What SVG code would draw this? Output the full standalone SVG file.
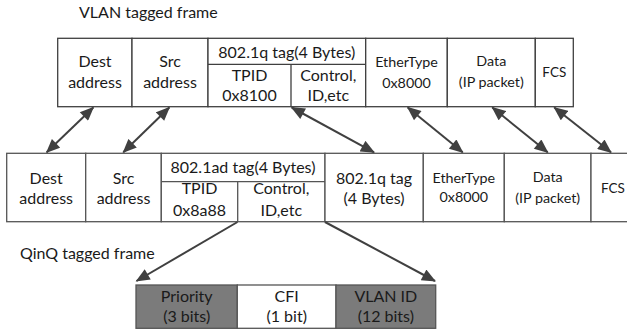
<svg xmlns="http://www.w3.org/2000/svg" width="627" height="331" viewBox="0 0 627 331">
  <style>
    text { font-family: Lato, "Open Sans", "Liberation Sans", sans-serif; fill: #1a1a1a; text-anchor: middle; }
    .lg { font-size: 16px; }
    .md { font-size: 14.3px; }
    .sm { font-size: 13.5px; }
    .title { font-size: 16px; text-anchor: start; }
    .box { fill: #ffffff; stroke: #3f3f3f; stroke-width: 1.3; }
    .box2 { fill: #ffffff; stroke: #555555; stroke-width: 1.3; }
    .dark { fill: #7b7b7b; stroke: #555555; stroke-width: 1.3; }
    .sep { stroke: #3f3f3f; stroke-width: 1.3; fill: none; }
    .sep2 { stroke: #555555; stroke-width: 1.3; fill: none; }
    .conn { stroke: #404040; stroke-width: 2; fill: none; }
  </style>
  <defs>
    <marker id="head" viewBox="0 0 14 12" refX="13" refY="6" markerWidth="15" markerHeight="12" markerUnits="userSpaceOnUse" orient="auto-start-reverse">
      <path d="M0,0 L14,6 L0,12 z" fill="#404040"/>
    </marker>
  </defs>

  <!-- captions -->
  <text class="title" x="79" y="18">VLAN tagged frame</text>
  <text class="title" x="20" y="258.5">QinQ tagged frame</text>

  <!-- 802.1Q frame -->
  <g id="vlan-dest">
    <rect class="box" x="57.7" y="38.3" width="74.3" height="68.4"/>
    <text class="lg" x="95" y="67">Dest</text>
    <text class="lg" x="95" y="88">address</text>
  </g>
  <g id="vlan-src">
    <rect class="box" x="132" y="38.3" width="76" height="68.4"/>
    <text class="lg" x="170" y="67">Src</text>
    <text class="lg" x="170" y="88">address</text>
  </g>
  <g id="vlan-tag">
    <rect class="box" x="208" y="38.3" width="157.7" height="68.4"/>
    <path class="sep" d="M208,64.3 H365.7 M291,64.3 V106.7"/>
    <text class="lg" x="286.8" y="58">802.1q tag(4 Bytes)</text>
    <text class="lg" x="249.5" y="81">TPID</text>
    <text class="lg" x="249.5" y="101">0x8100</text>
    <text class="lg" x="328.3" y="81">Control,</text>
    <text class="lg" x="328.3" y="101">ID,etc</text>
  </g>
  <g id="vlan-ethertype">
    <rect class="box" x="365.7" y="38.3" width="81.6" height="68.4"/>
    <text class="md" x="406.5" y="67">EtherType</text>
    <text class="md" x="406.5" y="87.5">0x8000</text>
  </g>
  <g id="vlan-data">
    <rect class="box" x="447.3" y="38.3" width="88" height="68.4"/>
    <text class="md" x="491.3" y="65.5">Data</text>
    <text class="md" x="491.3" y="86.5">(IP packet)</text>
  </g>
  <g id="vlan-fcs">
    <rect class="box" x="535.3" y="38.3" width="38" height="68.4"/>
    <text class="sm" x="554.3" y="77">FCS</text>
  </g>

  <!-- 802.1ad (QinQ) frame -->
  <g id="qinq-dest">
    <rect class="box2" x="6.7" y="153.3" width="79" height="68.4"/>
    <text class="lg" x="46.2" y="183.5">Dest</text>
    <text class="lg" x="46.2" y="204">address</text>
  </g>
  <g id="qinq-src">
    <rect class="box2" x="85.7" y="153.3" width="75.6" height="68.4"/>
    <text class="lg" x="123.5" y="183.5">Src</text>
    <text class="lg" x="123.5" y="204">address</text>
  </g>
  <g id="qinq-outer-tag">
    <rect class="box2" x="161.3" y="153.3" width="163.7" height="68.4"/>
    <path class="sep2" d="M161.3,181.7 H325 M237.7,181.7 V221.7"/>
    <text class="lg" x="243" y="173">802.1ad tag(4 Bytes)</text>
    <text class="lg" x="199.5" y="194">TPID</text>
    <text class="lg" x="199.5" y="216">0x8a88</text>
    <text class="lg" x="281.3" y="194">Control,</text>
    <text class="lg" x="281.3" y="216">ID,etc</text>
  </g>
  <g id="qinq-inner-tag">
    <rect class="box2" x="325" y="153.3" width="98.3" height="68.4"/>
    <text class="lg" x="374" y="183.5">802.1q tag</text>
    <text class="lg" x="374" y="204">(4 Bytes)</text>
  </g>
  <g id="qinq-ethertype">
    <rect class="box2" x="423.3" y="153.3" width="81" height="68.4"/>
    <text class="md" x="463.8" y="183">EtherType</text>
    <text class="md" x="463.8" y="202">0x8000</text>
  </g>
  <g id="qinq-data">
    <rect class="box2" x="504.3" y="153.3" width="86.7" height="68.4"/>
    <text class="md" x="547.7" y="182">Data</text>
    <text class="md" x="547.7" y="203">(IP packet)</text>
  </g>
  <g id="qinq-fcs">
    <rect class="box2" x="591" y="153.3" width="45" height="68.4"/>
    <text class="sm" x="613" y="192.5">FCS</text>
  </g>

  <!-- TCI fields -->
  <g id="tci-priority">
    <rect class="dark" x="136" y="285" width="101.3" height="43.3"/>
    <text class="lg" x="186.7" y="302">Priority</text>
    <text class="lg" x="186.7" y="322">(3 bits)</text>
  </g>
  <g id="tci-cfi">
    <rect class="box2" x="237.3" y="285" width="98.7" height="43.3"/>
    <text class="lg" x="286.7" y="302">CFI</text>
    <text class="lg" x="286.7" y="322">(1 bit)</text>
  </g>
  <g id="tci-vlanid">
    <rect class="dark" x="336" y="285" width="99.7" height="43.3"/>
    <text class="lg" x="385.8" y="302">VLAN ID</text>
    <text class="lg" x="385.8" y="322">(12 bits)</text>
  </g>

  <!-- connectors -->
  <g id="connectors">
    <line class="conn" x1="93.3" y1="107.5" x2="46.7" y2="152.3" marker-start="url(#head)" marker-end="url(#head)"/>
    <line class="conn" x1="169.3" y1="107.5" x2="123.3" y2="152.3" marker-start="url(#head)" marker-end="url(#head)"/>
    <line class="conn" x1="291.7" y1="107.5" x2="374" y2="152.3" marker-start="url(#head)" marker-end="url(#head)"/>
    <line class="conn" x1="407.7" y1="107.5" x2="462.7" y2="152.3" marker-start="url(#head)" marker-end="url(#head)"/>
    <line class="conn" x1="492.3" y1="107.5" x2="547.7" y2="152.3" marker-start="url(#head)" marker-end="url(#head)"/>
    <line class="conn" x1="554.3" y1="107.5" x2="611" y2="152.3" marker-start="url(#head)" marker-end="url(#head)"/>
    <line class="conn" x1="237.5" y1="222" x2="136.5" y2="281" marker-end="url(#head)"/>
    <line class="conn" x1="325" y1="222" x2="435" y2="281" marker-end="url(#head)"/>
  </g>
</svg>
